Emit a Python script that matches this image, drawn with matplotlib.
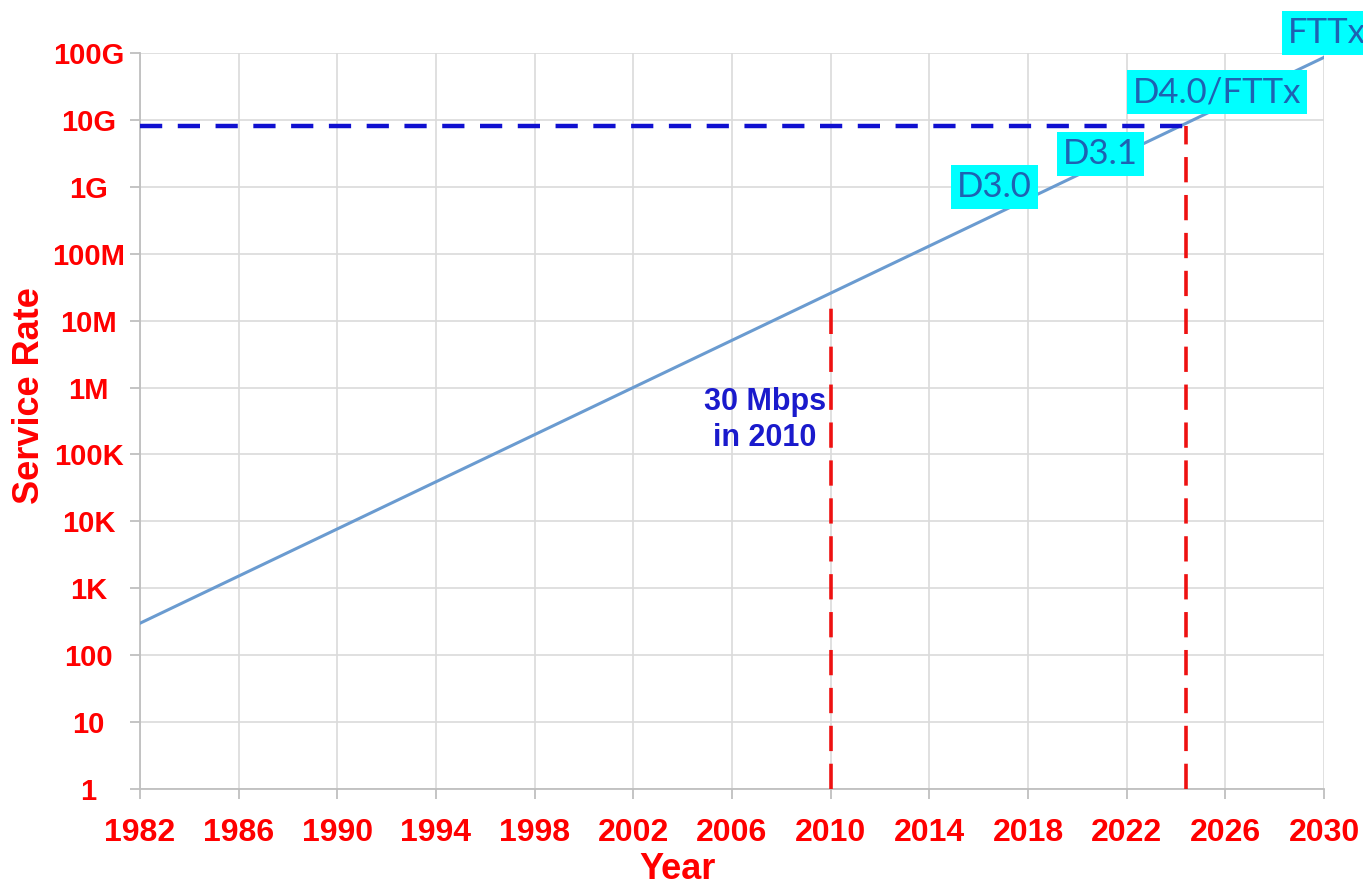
import matplotlib
matplotlib.use("Agg")
import matplotlib.pyplot as plt
import matplotlib.ticker as mticker

# 데이터
trend_years = [1982, 2030]
trend_rates = [300, 8.6e10]

target_rate = 8e9          # 파란 점선 (약 10G 바로 아래)
target_year = 2024.4       # 빨간 점선 (오른쪽)
ref_year = 2010            # 빨간 점선 (왼쪽)
ref_rate = 2e7

year_ticks = [1982, 1986, 1990, 1994, 1998, 2002, 2006, 2010, 2014, 2018, 2022, 2026, 2030]
rate_ticks = [1, 10, 100, 1e3, 1e4, 1e5, 1e6, 1e7, 1e8, 1e9, 1e10, 1e11]
rate_labels = ["1", "10", "100", "1K", "10K", "100K", "1M", "10M", "100M", "1G", "10G", "100G"]

tech_labels = ["D3.0", "D3.1", "D4.0/FTTx", "FTTx"]
tech_years = [2016.65, 2020.95, 2025.65, 2030.1]
tech_rates = [1.0e9, 3.1e9, 2.6e10, 2.0e11]

plt.rcParams['font.family'] = ['Liberation Sans', 'DejaVu Sans']

fig = plt.figure(figsize=(13.63, 8.86), dpi=100)
ax = fig.add_axes([0.1027, 0.1095, 0.8687, 0.8307])

ax.set_yscale('log')
ax.set_xlim(1982, 2030)
ax.set_ylim(1, 1e11)

# 격자
ax.set_xticks(year_ticks)
ax.xaxis.set_minor_locator(mticker.NullLocator())
ax.yaxis.set_minor_locator(mticker.NullLocator())
ax.set_yticks(rate_ticks)
ax.set_yticklabels(rate_labels)
ax.grid(True, color="#dadada", linewidth=1.2)
ax.set_axisbelow(True)

for side in ['top', 'right']:
    ax.spines[side].set_visible(False)
for side in ['left', 'bottom']:
    ax.spines[side].set_color("#bfbfbf")
    ax.spines[side].set_linewidth(1.3)

ax.tick_params(axis='both', colors="#bfbfbf", length=7, width=1.3)
ax.tick_params(axis='x', labelcolor="red", labelsize=23, pad=14)
ax.tick_params(axis='y', labelcolor="red", labelsize=21, pad=30)
for lab in ax.get_xticklabels():
    lab.set_fontweight('bold')
for lab in ax.get_yticklabels():
    lab.set_fontweight('bold')
    lab.set_horizontalalignment('center')

# 추세선
ax.plot(trend_years, trend_rates, color="#6a9bd0", linewidth=2.2, zorder=3)

# 점선
ax.plot([1982, target_year], [target_rate, target_rate], color="#1010d0",
        linewidth=3.2, linestyle=(0, (5, 3.5)), zorder=4)
ax.plot([target_year, target_year], [1, target_rate], color="#ee1111",
        linewidth=2.6, linestyle=(0, (7, 3.5)), zorder=4)
ax.plot([ref_year, ref_year], [1, ref_rate], color="#ee1111",
        linewidth=2.6, linestyle=(0, (7, 3.5)), zorder=4)

ax.text(2009.8, 3.3e5, "30 Mbps\nin 2010", color="#1a1acc", fontsize=22,
        fontweight='bold', ha='right', va='center', multialignment='center',
        linespacing=1.25)

# 기술 라벨
for lab, yr, rt in zip(tech_labels, tech_years, tech_rates):
    ax.text(yr, rt, lab, family=['Lato', 'DejaVu Sans'], fontsize=25,
            color="#1e62b2", ha='center', va='center', clip_on=False, zorder=5,
            bbox=dict(boxstyle='square,pad=0.17', facecolor="#00ffff", edgecolor='none'))

ax.set_xlabel("Year", color="red", fontsize=26, fontweight='bold')
ax.xaxis.set_label_coords(0.454, -0.086)
ax.set_ylabel("Service Rate", color="red", fontsize=26, fontweight='bold', va='center')
ax.yaxis.set_label_coords(-0.093, 0.535)

fig.savefig("out.png", dpi=100)
